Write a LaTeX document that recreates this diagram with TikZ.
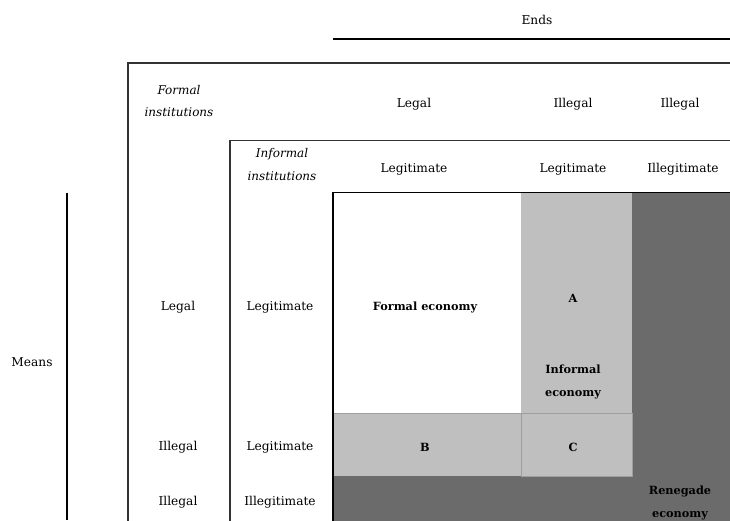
\documentclass[tikz,border=0pt]{standalone}
\usepackage{fontspec}
\setmainfont{DejaVu Serif}
\begin{document}
\begin{tikzpicture}[x=1pt,y=-1pt,
  lbl/.style={font=\fontsize{12.2}{22}\selectfont, inner sep=0pt, align=center},
  hdr/.style={lbl, font=\fontsize{12}{22.5}\selectfont\itshape},
  cell/.style={lbl, font=\fontsize{11.3}{22.5}\selectfont\bfseries},
  frame/.style={draw=black!80, line width=1.3pt},
  lightcell/.style={fill=black!25},
  darkcell/.style={fill=black!58},
  seam/.style={draw=black!38, line width=0.6pt}]
\useasboundingbox (0,0) rectangle (730,520);
\fill[white] (0,0) rectangle (730,520);
\begin{scope}
\clip (0,0) rectangle (730,520);
% shaded regions of the matrix
\path[darkcell] (632,193) rectangle (760,560);
\path[darkcell] (333,476) rectangle (632,560);
\path[lightcell] (521,193) rectangle (632,413);
\path[lightcell] (333,413) rectangle (521,476);
\path[lightcell] (521,413) rectangle (632,476);
\draw[seam] (333,413) -- (632,413);
\draw[seam] (521,413) -- (521,476);
\draw[seam] (521,476) -- (632,476) -- (632,413);
% nested frames
\draw[frame] (128,63) rectangle (760,560);
\draw[frame] (230,140.5) rectangle (760,560);
\draw[draw=black, line width=1.8pt] (333,192.5) rectangle (760,560);
% axes
\coordinate (endsL) at (333,39);
\coordinate (endsR) at (730,39);
\coordinate (meansT) at (67,192.5);
\coordinate (meansB) at (67,520);
\draw[black, line width=1.3pt] (endsL) -- (endsR);
\draw[black, line width=1.3pt] (meansT) -- (meansB);
\end{scope}
% axis labels
\node[lbl] (ends) at (537,20) {Ends};
\node[lbl] (means) at (32,362) {Means};
% column headings
\node[hdr] (formal) at (179,101) {Formal\\institutions};
\node[hdr] (informal) at (282,164.5) {Informal\\institutions};
\node[lbl] (c1a) at (414,104) {Legal};
\node[lbl] (c2a) at (573,104) {Illegal};
\node[lbl] (c3a) at (680,104) {Illegal};
\node[lbl] (c1b) at (414,169) {Legitimate};
\node[lbl] (c2b) at (573,169) {Legitimate};
\node[lbl] (c3b) at (683,169) {Illegitimate};
% row headings
\node[lbl] (r1a) at (178,307) {Legal};
\node[lbl] (r1b) at (280,307) {Legitimate};
\node[lbl] (r2a) at (178,447) {Illegal};
\node[lbl] (r2b) at (280,447) {Legitimate};
\node[lbl] (r3a) at (178,502) {Illegal};
\node[lbl] (r3b) at (280,502) {Illegitimate};
% cells
\node[cell] (fe) at (425,307) {Formal economy};
\node[cell] (ca) at (573,298) {A};
\node[cell] (ie) at (573,382) {Informal\\economy};
\node[cell] (cb) at (425,447) {B};
\node[cell] (cc) at (573,447) {C};
\node[cell] (re) at (680,503) {Renegade\\economy};
\end{tikzpicture}
\end{document}
